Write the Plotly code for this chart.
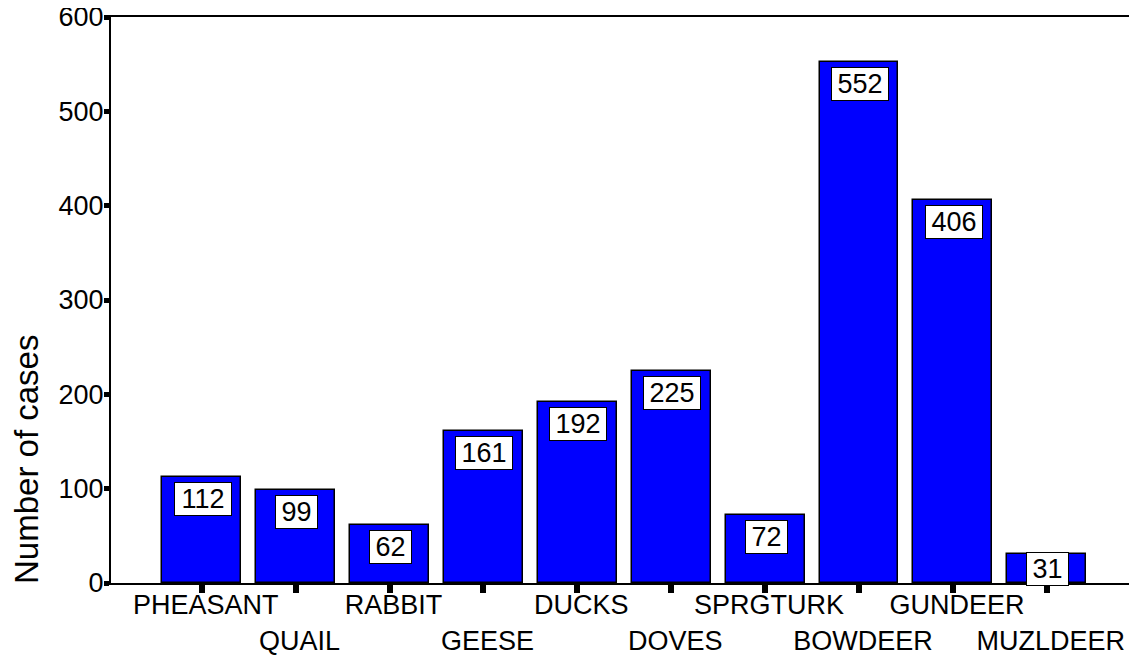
import plotly.graph_objects as go

categories = ["PHEASANT", "QUAIL", "RABBIT", "GEESE", "DUCKS", "DOVES",
              "SPRGTURK", "BOWDEER", "GUNDEER", "MUZLDEER"]
counts = [112, 99, 62, 161, 192, 225, 72, 552, 406, 31]
y_ticks = [0, 100, 200, 300, 400, 500, 600]

FONT = "Liberation Sans, Arial, sans-serif"
x_pos = list(range(len(categories)))
tick_text = [c if i % 2 == 0 else "<br>" + c for i, c in enumerate(categories)]

fig = go.Figure()
fig.add_trace(go.Bar(
    x=x_pos, y=counts, width=0.84,
    marker=dict(color="#0000FF", line=dict(color="black", width=1.5)),
    hoverinfo="skip",
))

# value labels in boxes near the bar tops
px_per_unit = 566 / 600
for i, v in enumerate(counts):
    txt = str(v)
    shift = -5 if v * px_per_unit > 40 else 2
    fig.add_annotation(
        x=i, y=v, xref="x", yref="y", text=txt, showarrow=False,
        yanchor="top", yshift=shift, xshift=1,
        font=dict(family=FONT, size=27, color="black"),
        bgcolor="white", bordercolor="black", borderwidth=1, borderpad=1,
        width=15 * len(txt) + 9, align="center",
    )

fig.add_annotation(
    x=-0.083, y=0.219, xref="paper", yref="paper", text="Number of cases",
    showarrow=False, textangle=-90, xanchor="center", yanchor="middle",
    font=dict(family=FONT, size=33, color="black"),
)

fig.update_layout(
    width=1129, height=647,
    margin=dict(l=103, r=1, t=9, b=72, autoexpand=False),
    paper_bgcolor="white", plot_bgcolor="white",
    showlegend=False,
    font=dict(family=FONT, size=27, color="black"),
    bargap=0,
)
fig.update_xaxes(
    range=[-0.966, 9.95], tickmode="array", tickvals=x_pos, ticktext=tick_text,
    tickangle=0, automargin=False, ticklabeloverflow="allow",
    showline=True, linecolor="black", linewidth=2, mirror=True,
    ticks="outside", ticklen=8, tickwidth=6, tickcolor="black",
    showgrid=False, zeroline=False, ticklabelshift=4, ticklabelstandoff=-11,
    tickfont=dict(family=FONT, size=27, color="black"),
)
fig.update_yaxes(
    range=[0, 600], tickmode="array", tickvals=y_ticks, automargin=False,
    ticklabeloverflow="allow",
    showline=True, linecolor="black", linewidth=2, mirror=True,
    ticks="outside", ticklen=5, tickwidth=5, tickcolor="black",
    showgrid=False, zeroline=False, ticklabelstandoff=-5,
    tickfont=dict(family=FONT, size=27, color="black"),
)

fig.write_html("out.html")
